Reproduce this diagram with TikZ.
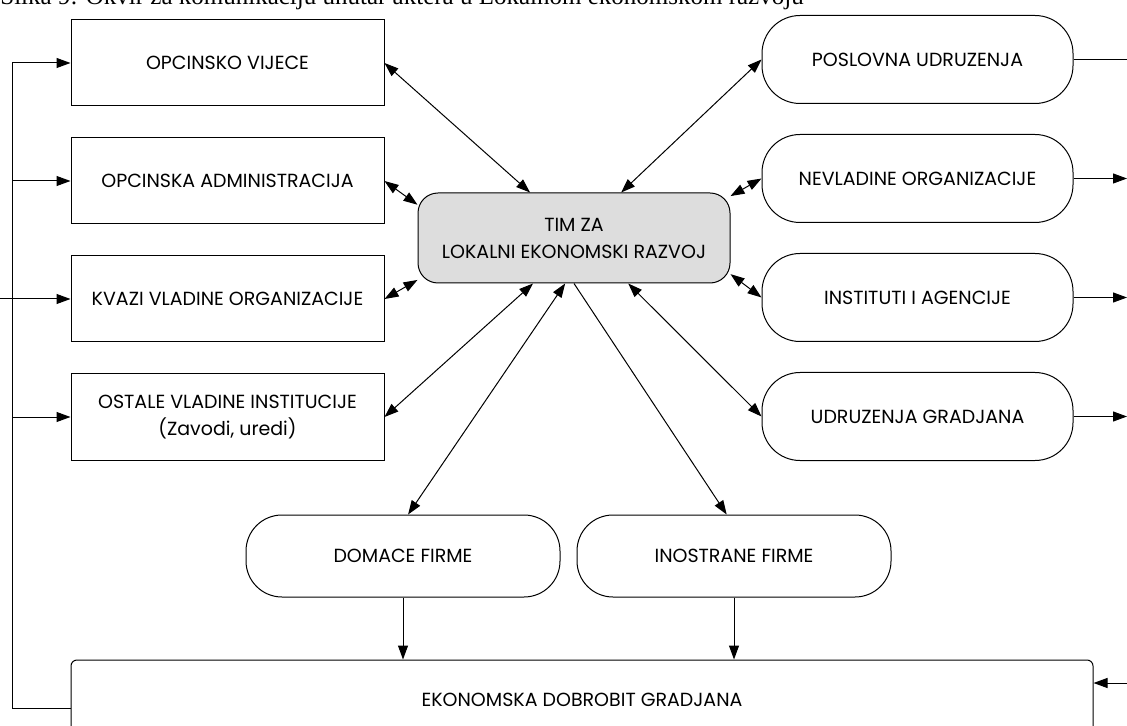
\documentclass[tikz,border=0pt]{standalone}
\usepackage{fontspec}
\setmainfont{Poppins}
\newfontfamily\captionfont{Liberation Serif}
\usetikzlibrary{arrows.meta, positioning, calc}
\definecolor{timgray}{RGB}{221, 221, 221}

\begin{document}
\begin{tikzpicture}[
    x=0.5pt, y=-0.5pt,
    node distance=15.5pt and 8pt,
    box/.style={rectangle, draw, align=center, inner sep=0pt, line width=0.5pt, font=\fontsize{9.5}{13.5}\selectfont},
    leftbox/.style={box, minimum width=156.5pt, minimum height=43pt},
    roundbox/.style={box, rounded corners=19pt, minimum width=155.5pt, minimum height=44pt},
    firmbox/.style={box, rounded corners=18pt, minimum width=157pt, minimum height=41pt},
    timbox/.style={box, rounded corners=10pt, fill=timgray, minimum width=156pt, minimum height=45pt},
    arrow/.style={-{Triangle[length=7pt, width=5pt]}, line width=0.5pt},
    twoway/.style={{Triangle[length=7pt, width=5pt]}-{Triangle[length=7pt, width=5pt]}, line width=0.5pt},
    plainline/.style={line width=0.5pt}
]
\useasboundingbox (0,0) rectangle (1127,726);

% Caption (cut at the top)
\node[anchor=base west, inner sep=0pt, font=\captionfont\fontsize{12.5}{14}\selectfont] (caption) at (0,5) {Slika 9: Okvir za komunikaciju unutar aktera u Lokalnom ekonomskom razvoju};

% Left column
\node[leftbox] (vijece) at (227.5,63) {OPCINSKO VIJECE};
\node[leftbox, below=of vijece] (admin) {OPCINSKA ADMINISTRACIJA};
\node[leftbox, below=of admin] (kvazi) {KVAZI VLADINE ORGANIZACIJE};
\node[leftbox, below=of kvazi] (ostale) {OSTALE VLADINE INSTITUCIJE\\(Zavodi, uredi)};

% Centre
\node[timbox] (tim) at (574,238) {TIM ZA\\LOKALNI EKONOMSKI RAZVOJ};

% Right column
\node[roundbox] (poslovna) at (917.5,59.5) {POSLOVNA UDRUZENJA};
\node[roundbox, below=15pt of poslovna] (nevladine) {NEVLADINE ORGANIZACIJE};
\node[roundbox, below=15pt of nevladine] (instituti) {INSTITUTI I AGENCIJE};
\node[roundbox, below=15pt of instituti] (gradjani) {UDRUZENJA GRADJANA};

% Firms
\node[firmbox] (domace) at (403,556) {DOMACE FIRME};
\node[firmbox, right=of domace] (inostrane) {INOSTRANE FIRME};

% Bottom
\node[box, rounded corners=3pt, minimum width=511pt, minimum height=40pt] (dobrobit) at (582,700) {EKONOMSKA DOBROBIT GRADJANA};

% Edge points
\coordinate (loop) at (12,708);
\coordinate (leftedge) at (0,0);
\coordinate (rightedge) at (1127,0);
\coordinate (inflow) at (1127,683);

% Arrows to and from the team
\draw[twoway] (vijece.east) -- (tim.134);
\draw[twoway] (admin.east) -- (tim.168);
\draw[twoway] (kvazi.east) -- (tim.195);
\draw[twoway] (ostale.east) -- (tim.228);
\draw[twoway] (poslovna.west) -- (tim.44);
\draw[twoway] (nevladine.west) -- (tim.15);
\draw[twoway] (instituti.west) -- (tim.-13);
\draw[twoway] (gradjani.west) -- (tim.-40);
\draw[twoway] (tim.259) -- (domace.83);
\draw[arrow] (tim.270) -- (inostrane.100);

% Firms to welfare
\draw[arrow] (domace.south) -- (domace.south |- dobrobit.north);
\draw[arrow] (inostrane.south) -- (inostrane.south |- dobrobit.north);

% Left feedback loop
\draw[arrow] (dobrobit.west |- loop) -- (loop) |- (vijece.west);
\draw[arrow] (loop |- admin.west) -- (admin.west);
\draw[arrow] (leftedge |- kvazi.west) -- (kvazi.west);
\draw[arrow] (loop |- ostale.west) -- (ostale.west);

% Right side
\draw[plainline] (poslovna.east) -- (rightedge |- poslovna.east);
\draw[arrow] (nevladine.east) -- (rightedge |- nevladine.east);
\draw[arrow] (instituti.east) -- (rightedge |- instituti.east);
\draw[arrow] (gradjani.east) -- (rightedge |- gradjani.east);
\draw[arrow] (inflow) -- (dobrobit.east |- inflow);

\end{tikzpicture}
\end{document}
